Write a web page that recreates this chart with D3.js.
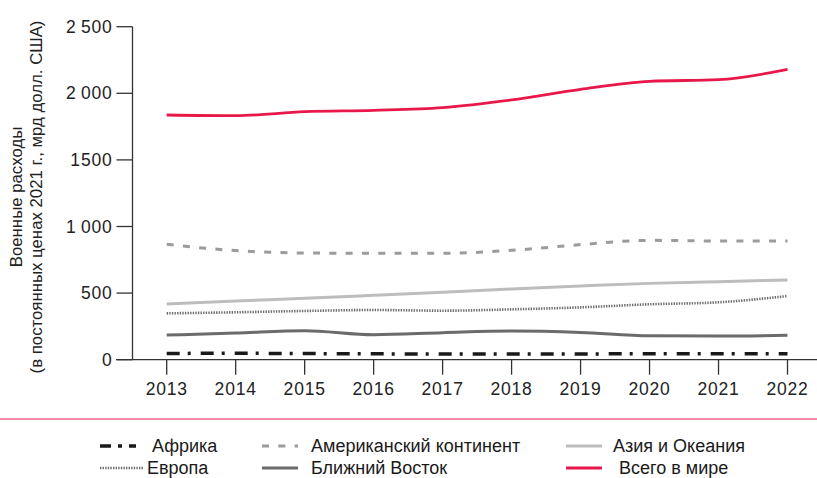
<!DOCTYPE html>
<html>
<head>
<meta charset="utf-8">
<script src="https://cdn.jsdelivr.net/npm/d3@7"></script>
<style>
  body { margin: 0; background: #fff; }
  svg text { font-family: "Liberation Sans", Arial, sans-serif; fill: #222; font-weight: 400; }
  .legend text { font-family: "Liberation Sans Narrow", "Liberation Sans", sans-serif; fill: #1a1a1a; }
</style>
</head>
<body>
<div class="chart"></div>
<script>
// years and regional spending (bn USD, 2021 prices)
const years = [2013, 2014, 2015, 2016, 2017, 2018, 2019, 2020, 2021, 2022];
const africa = [47, 48, 46, 44, 43, 42, 43, 45, 45, 44];
const americas = [866, 819, 801, 799, 799, 821, 864, 896, 891, 891];
const asia = [418, 441, 461, 483, 506, 531, 553, 573, 586, 598];
const europe = [348, 356, 366, 373, 368, 378, 393, 416, 431, 478];
const middleEast = [185, 200, 218, 188, 203, 215, 205, 180, 178, 183];
const world = [1837, 1832, 1862, 1872, 1892, 1950, 2030, 2090, 2102, 2180];
const yTicks = [0, 500, 1000, 1500, 2000, 2500];
const yTickLabels = ["0", "500", "1\u2009000", "1500", "2\u2009000", "2\u2009500"];

const series = [
  { name: "Африка", values: africa, color: "#1a1a1a", width: 3.5, dash: "13,8,3,10" },
  { name: "Американский континент", values: americas, color: "#9b9b9b", width: 3, dash: "7,9.3" },
  { name: "Азия и Океания", values: asia, color: "#bdbdbf", width: 3, dash: null },
  { name: "Европа", values: europe, color: "#6e6e6e", width: 2.6, dash: "1.4,1.2" },
  { name: "Ближний Восток", values: middleEast, color: "#6b6b6d", width: 3, dash: null },
  { name: "Всего в мире", values: world, color: "#e8194a", width: 2.8, dash: null }
];

const width = 817, height = 478;
const svg = d3.select(".chart").append("svg")
  .attr("width", width)
  .attr("height", height);

const x = d3.scalePoint().domain(years).range([166.7, 787.5]);
const y = d3.scaleLinear().domain([0, 2500]).range([359.7, 26.7]);

// y axis
const yAxis = svg.append("g").attr("transform", "translate(132.5,0)");
yAxis.append("line").attr("y1", y(2500)).attr("y2", y(0)).attr("stroke", "#333").attr("stroke-width", 1.3);
yAxis.selectAll(".ytick")
  .data(yTicks)
  .join(enter => {
    const g = enter.append("g").attr("class", "ytick").attr("transform", d => `translate(0,${y(d)})`);
    g.append("line").attr("x1", -16).attr("x2", 0).attr("stroke", "#333").attr("stroke-width", 1.3);
    g.append("text").attr("x", -20).attr("dy", "0.35em").attr("text-anchor", "end")
      .style("font-size", "17.5px").style("letter-spacing", "0.8px").text((d, i) => yTickLabels[i]);
    return g;
  });

// x axis
const xAxis = svg.append("g").attr("transform", `translate(0,${y(0)})`);
xAxis.append("line").attr("x1", 116).attr("x2", width).attr("stroke", "#333").attr("stroke-width", 1.3);
xAxis.selectAll(".xtick")
  .data(years)
  .join(enter => {
    const g = enter.append("g").attr("class", "xtick").attr("transform", d => `translate(${x(d)},0)`);
    g.append("line").attr("y1", 0).attr("y2", 15).attr("stroke", "#333").attr("stroke-width", 1.3);
    g.append("text").attr("y", 35.5).attr("text-anchor", "middle")
      .style("font-size", "17.5px").style("letter-spacing", "0.8px").text(d => d);
    return g;
  });

// axis title
const title = svg.append("text")
  .attr("transform", "translate(22,197) rotate(-90)")
  .attr("text-anchor", "middle")
  .style("font-size", "16.8px");
title.append("tspan").attr("x", 0).attr("dy", 0).text("Военные расходы");
title.append("tspan").attr("x", 0).attr("dy", 20).text("(в постоянных ценах 2021 г., мрд долл. США)");

// lines
const line = d3.line()
  .x((d, i) => x(years[i]))
  .y(d => y(d))
  .curve(d3.curveMonotoneX);

svg.selectAll(".series")
  .data(series)
  .join("path")
  .attr("class", "series")
  .attr("d", d => line(d.values))
  .attr("fill", "none")
  .attr("stroke", d => d.color)
  .attr("stroke-width", d => d.width)
  .attr("stroke-dasharray", d => d.dash);

// separator
svg.append("line").attr("x1", 0).attr("x2", width).attr("y1", 419).attr("y2", 419)
  .attr("stroke", "#e8194a").attr("stroke-width", 1);

// legend
const legendPos = [
  [100, 446, 152], [262, 446, 311], [566, 446, 613],
  [100, 468, 147], [262, 468, 311], [566, 468, 619]
];
const legend = svg.append("g").attr("class", "legend");
series.forEach((s, i) => {
  const [lx, ly, tx] = legendPos[i];
  const len = s.name === "Европа" ? 43 : 36;
  legend.append("line")
    .attr("x1", lx).attr("x2", lx + len).attr("y1", ly).attr("y2", ly)
    .attr("stroke", s.color)
    .attr("stroke-width", s.width)
    .attr("stroke-dasharray", s.name === "Африка" ? "11,7,4,7" : s.dash);
  legend.append("text")
    .attr("x", tx).attr("y", ly).attr("dy", "0.36em")
    .style("font-size", "18px")
    .text(s.name);
});
</script>
</body>
</html>
